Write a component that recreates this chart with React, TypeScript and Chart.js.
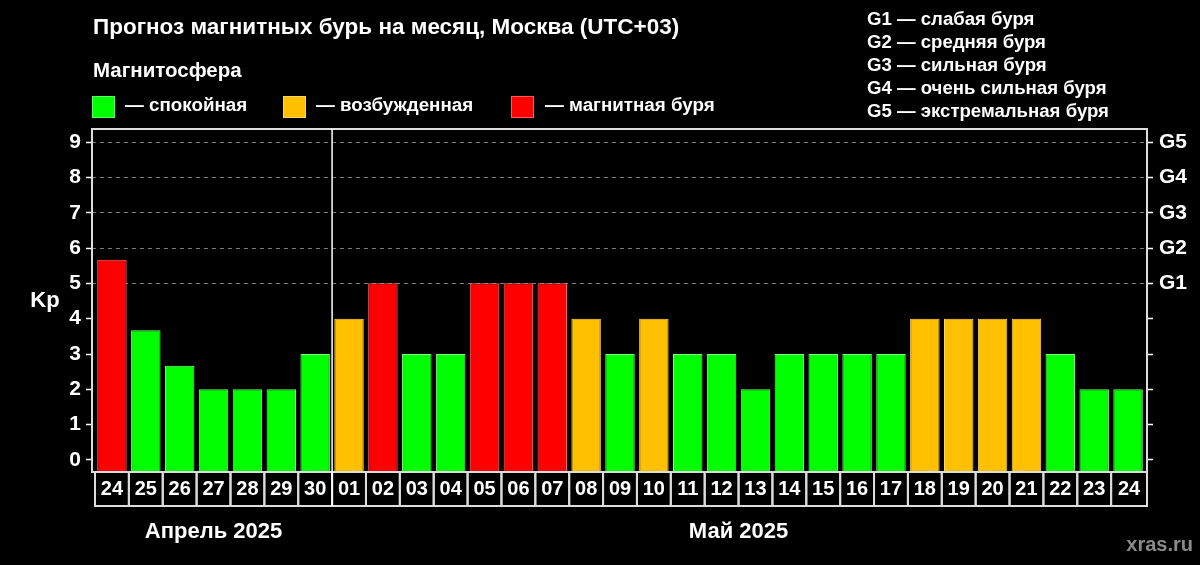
import React, { useEffect, useRef } from "react";
import { Chart, registerables } from "chart.js";

Chart.register(...registerables);

// ---------- data ----------
const dayLabels = [
  "24", "25", "26", "27", "28", "29", "30",
  "01", "02", "03", "04", "05", "06", "07", "08", "09", "10", "11", "12",
  "13", "14", "15", "16", "17", "18", "19", "20", "21", "22", "23", "24",
];
const kpValues = [
  5.67, 3.67, 2.67, 2, 2, 2, 3,
  4, 5, 3, 3, 5, 5, 5, 4, 3, 4, 3, 3,
  2, 3, 3, 3, 3, 4, 4, 4, 4, 3, 2, 2,
];
const monthLabels = ["Апрель 2025", "Май 2025"];
const monthStartIndex = [0, 7];
const kpTicks = [0, 1, 2, 3, 4, 5, 6, 7, 8, 9];
const gLabels = ["G1", "G2", "G3", "G4", "G5"];
const legendLabels = ["— спокойная", "— возбужденная", "— магнитная буря"];
const stormScaleLines = [
  "G1 — слабая буря",
  "G2 — средняя буря",
  "G3 — сильная буря",
  "G4 — очень сильная буря",
  "G5 — экстремальная буря",
];
const titleText = "Прогноз магнитных бурь на месяц, Москва (UTC+03)";
const subTitleText = "Магнитосфера";
const watermarkText = "xras.ru";

// ---------- styles ----------
const FONT = '"Liberation Sans", Arial, Helvetica, sans-serif';
const GREEN = "#00ff00";
const ORANGE = "#ffc000";
const RED = "#ff0000";
const legendColors = [GREEN, ORANGE, RED];
const Y_MIN = -0.34;
const Y_MAX = 9.37;

const fillFor = (v: number) => (v >= 5 ? RED : v >= 4 ? ORANGE : GREEN);
const edgeFor = (v: number) => (v >= 5 ? "#ff6a6a" : v >= 4 ? "#ffd860" : "#7dff7d");

const overlayPlugin = {
  id: "overlay",
  beforeDraw(chart: any) {
    const { ctx, width, height } = chart;
    ctx.save();
    ctx.fillStyle = "#000";
    ctx.fillRect(0, 0, width, height);
    ctx.restore();
  },
  afterDraw(chart: any) {
    const { ctx, chartArea } = chart;
    const xs = chart.scales.x;
    const { left, right, top, bottom } = chartArea;
    ctx.save();

    // frame
    ctx.strokeStyle = "#dcdcdc";
    ctx.lineWidth = 2;
    ctx.strokeRect(left, top, right - left, bottom - top);

    // date table
    const tableBottom = bottom + 34;
    ctx.lineWidth = 2;
    ctx.strokeStyle = "#dcdcdc";
    ctx.font = `bold 20px ${FONT}`;
    ctx.fillStyle = "#fff";
    ctx.textAlign = "center";
    ctx.textBaseline = "middle";
    dayLabels.forEach((lab, i) => {
      const x0 = xs.getPixelForValue(i - 0.5);
      const x1 = i === dayLabels.length - 1 ? right : xs.getPixelForValue(i + 0.5);
      ctx.strokeRect(x0, bottom, x1 - x0, tableBottom - bottom);
      ctx.fillText(lab, (x0 + x1) / 2, bottom + 17.5);
    });

    // month separator
    const sepX = xs.getPixelForValue(monthStartIndex[1] - 0.5);
    ctx.strokeStyle = "#ffffff";
    ctx.lineWidth = 1.5;
    ctx.beginPath();
    ctx.moveTo(sepX, top);
    ctx.lineTo(sepX, tableBottom);
    ctx.stroke();

    // month labels
    ctx.font = `bold 22px ${FONT}`;
    monthLabels.forEach((m, k) => {
      const from = monthStartIndex[k];
      const to = k + 1 < monthStartIndex.length ? monthStartIndex[k + 1] - 1 : dayLabels.length - 1;
      const cx = (xs.getPixelForValue(from - 0.5) + xs.getPixelForValue(to + 0.5)) / 2;
      ctx.fillText(m, cx, 532);
    });

    // Kp label
    ctx.font = `bold 22px ${FONT}`;
    ctx.fillText("Kp", 45, (top + bottom) / 2);

    // title
    ctx.textAlign = "left";
    ctx.font = `bold 22.5px ${FONT}`;
    ctx.fillText(titleText, 93, 28);
    ctx.font = `bold 20.5px ${FONT}`;
    ctx.fillText(subTitleText, 93, 71);

    // legend
    const sqX = [92, 283, 511];
    const txX = [125, 316, 545];
    ctx.font = `bold 18.8px ${FONT}`;
    legendLabels.forEach((lab, i) => {
      ctx.fillStyle = legendColors[i];
      ctx.fillRect(sqX[i], 96, 23, 22);
      ctx.strokeStyle = "rgba(255,255,255,0.35)";
      ctx.lineWidth = 1;
      ctx.strokeRect(sqX[i] + 0.5, 96.5, 22, 21);
      ctx.fillStyle = "#fff";
      ctx.fillText(lab, txX[i], 106);
    });

    // storm scale
    ctx.font = `bold 18.6px ${FONT}`;
    stormScaleLines.forEach((line, i) => {
      ctx.fillText(line, 867, 20 + i * 23);
    });

    // watermark
    ctx.textAlign = "right";
    ctx.fillStyle = "#8a8a8a";
    ctx.font = `bold 20px ${FONT}`;
    ctx.fillText(watermarkText, 1193, 545);

    ctx.restore();
  },
};

export default function App() {
  const canvasRef = useRef<HTMLCanvasElement | null>(null);

  useEffect(() => {
    document.body.style.margin = "0";
    document.body.style.background = "#000";
    const canvas = canvasRef.current;
    if (!canvas) return;

    const chart = new Chart(canvas, {
      type: "bar",
      data: {
        datasets: [
          {
            data: kpValues.map((v, i) => ({ x: i, y: v })),
            backgroundColor: kpValues.map(fillFor),
            borderColor: kpValues.map(edgeFor),
            borderWidth: 1,
            borderSkipped: "start",
            base: Y_MIN,
            barPercentage: 0.87,
            categoryPercentage: 1,
          } as any,
        ],
      },
      options: {
        animation: false,
        responsive: false,
        maintainAspectRatio: false,
        devicePixelRatio: 1,
        layout: { padding: { top: 129, bottom: 93, left: 0, right: 0 } },
        plugins: { legend: { display: false }, tooltip: { enabled: false }, title: { display: false } },
        scales: {
          x: {
            type: "linear",
            display: false,
            offset: false,
            grid: { offset: false },
            bounds: "data",
            min: -0.5 - 3 / 33.87,
            max: dayLabels.length - 0.5 + 2 / 33.87,
          },
          y: {
            position: "left",
            min: Y_MIN,
            max: Y_MAX,
            afterBuildTicks: (s: any) => {
              s.ticks = kpTicks.map((v) => ({ value: v }));
            },
            afterFit: (s: any) => {
              s.width = 92;
            },
            ticks: {
              color: "#ffffff",
              font: { family: FONT, size: 21, weight: "bold" },
              padding: 5,
              autoSkip: false,
            },
            grid: {
              color: (c: any) => (c.tick && c.tick.value >= 5 ? "#7a7a7a" : "rgba(0,0,0,0)"),
              tickColor: "#ffffff",
              tickLength: 6,
              lineWidth: 1,
              tickWidth: 1.5,
            },
            border: { display: false, dash: [4, 4] },
          },
          y2: {
            position: "right",
            min: Y_MIN,
            max: Y_MAX,
            afterBuildTicks: (s: any) => {
              s.ticks = kpTicks.map((v) => ({ value: v }));
            },
            afterFit: (s: any) => {
              s.width = 53;
            },
            ticks: {
              color: "#ffffff",
              font: { family: FONT, size: 21, weight: "bold" },
              padding: 6,
              autoSkip: false,
              callback: (v: any) => (Number(v) >= 5 ? gLabels[Number(v) - 5] : ""),
            },
            grid: {
              drawOnChartArea: false,
              tickColor: "#ffffff",
              tickLength: 6,
              tickWidth: 1.5,
            },
            border: { display: false },
          },
        },
      } as any,
      plugins: [overlayPlugin],
    });

    return () => chart.destroy();
  }, []);

  return (
    <div style={{ width: 1200, height: 565, background: "#000" }}>
      <canvas ref={canvasRef} width={1200} height={565} style={{ display: "block" }} />
    </div>
  );
}
